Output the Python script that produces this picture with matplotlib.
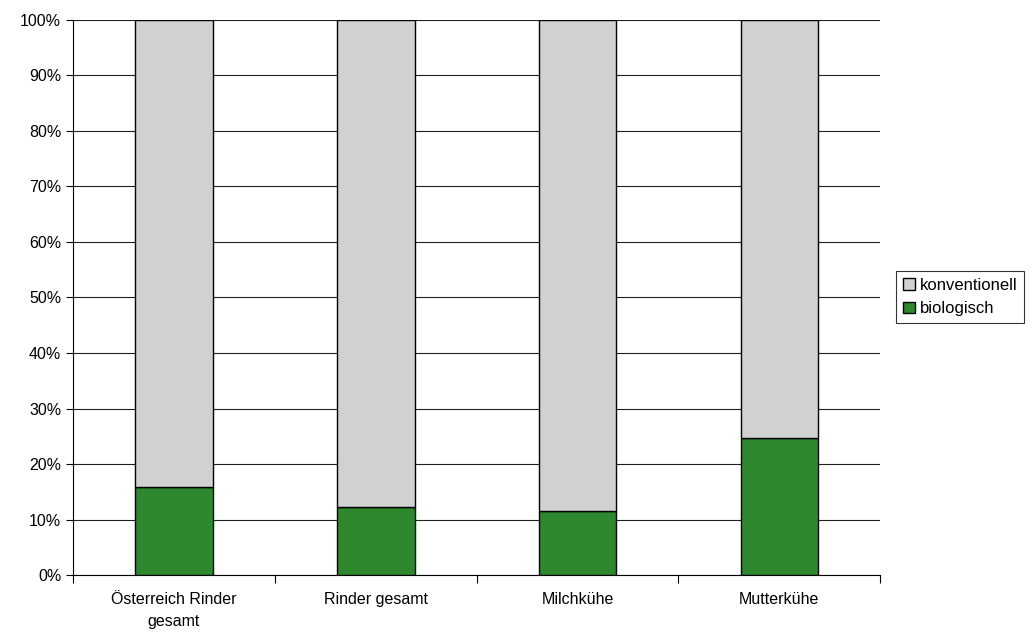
import numpy as np
import matplotlib.pyplot as plt
from matplotlib.ticker import FixedLocator, PercentFormatter

plt.rcParams['font.family'] = ['Liberation Sans', 'DejaVu Sans']

categories = ['Österreich Rinder\ngesamt', 'Rinder gesamt', 'Milchkühe', 'Mutterkühe']
biologisch = [15.9, 12.3, 11.5, 24.7]
konventionell = [100 - v for v in biologisch]

fig = plt.figure(figsize=(10.35, 6.39), dpi=100)
ax = fig.add_axes([0.0705, 0.100, 0.780, 0.869])

x = np.arange(len(categories))
w = 0.385
ax.bar(x, biologisch, w, color='#2e882e', edgecolor='black', linewidth=1.0,
       label='biologisch', zorder=3)
ax.bar(x, konventionell, w, bottom=biologisch, color='#d0d2d0', edgecolor='black',
       linewidth=1.0, label='konventionell', zorder=3)

ax.set_xlim(-0.5, len(categories) - 0.5)
ax.set_ylim(0, 100)
ax.set_yticks(np.arange(0, 101, 10))
ax.yaxis.set_major_formatter(PercentFormatter(decimals=0))
ax.grid(axis='y', color='#202020', linewidth=0.8, zorder=0)

ax.set_xticks(x)
ax.set_xticklabels(categories, fontsize=11.5, linespacing=1.6)
ax.tick_params(axis='x', which='major', length=0, pad=12)
ax.xaxis.set_minor_locator(FixedLocator(np.arange(-0.5, len(categories), 1.0)))
ax.tick_params(axis='x', which='minor', length=6, width=0.8, direction='out')
ax.tick_params(axis='y', length=5, width=0.8, direction='out', labelsize=11.5)

for s in ['top', 'right']:
    ax.spines[s].set_visible(False)
ax.spines['left'].set_linewidth(0.8)
ax.spines['bottom'].set_linewidth(0.8)

handles, labels = ax.get_legend_handles_labels()
leg = fig.legend(handles[::-1], labels[::-1], loc='center left',
                 bbox_to_anchor=(0.866, 0.535), frameon=True, fancybox=False,
                 edgecolor='black', fontsize=12, handlelength=0.7,
                 handleheight=0.7, handletextpad=0.3, borderpad=0.4,
                 labelspacing=0.5, borderaxespad=0)
leg.get_frame().set_linewidth(0.8)

fig.savefig('out.png', dpi=100)
